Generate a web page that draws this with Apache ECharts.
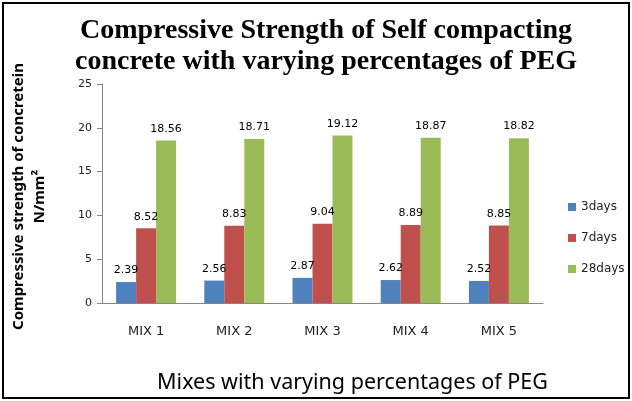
<!DOCTYPE html>
<html>
<head>
<meta charset="utf-8">
<script src="https://cdn.jsdelivr.net/npm/echarts@6/dist/echarts.min.js"></script>
<style>
html,body{margin:0;padding:0;background:#fff;}
#c{width:632px;height:401px;}
</style>
</head>
<body>
<div id="c"></div>
<script>
var categories = ['MIX 1', 'MIX 2', 'MIX 3', 'MIX 4', 'MIX 5'];
var days3 = [2.39, 2.56, 2.87, 2.62, 2.52];
var days7 = [8.52, 8.83, 9.04, 8.89, 8.85];
var days28 = [18.56, 18.71, 19.12, 18.87, 18.82];
var seriesNames = ['3days', '7days', '28days'];
var colors = ['#4F81BD', '#C0504D', '#9BBB59'];

var chart = echarts.init(document.getElementById('c'));
function mk(name, data, color) {
  return {
    name: name, type: 'bar', data: data, barGap: '0%', barCategoryGap: '32%',
    itemStyle: { color: color },
    label: { show: true, position: 'top', distance: 6, color: '#000',
      fontFamily: 'DejaVu Sans', fontSize: 11, formatter: function(p){ return p.value.toFixed(2); } }
  };
}
chart.setOption({
  animation: false,
  title: {
    text: 'Compressive Strength of Self compacting\nconcrete with varying percentages of PEG',
    left: 321, top: 10, textAlign: 'center',
    textStyle: { fontFamily: 'Liberation Serif', fontWeight: 'bold', fontSize: 28, lineHeight: 31, color: '#000' }
  },
  legend: {
    orient: 'vertical', left: 563, top: 196, itemWidth: 8, itemHeight: 8, itemGap: 19,
    icon: 'rect',
    textStyle: { fontFamily: 'DejaVu Sans', fontSize: 12, color: '#222' },
    data: seriesNames
  },
  grid: { left: 102, right: 89, top: 84, bottom: 98, containLabel: false, outerBoundsMode: 'none' },
  xAxis: {
    type: 'category', data: categories,
    name: 'Mixes with varying percentages of PEG', nameLocation: 'middle', nameGap: 69,
    nameTextStyle: { fontFamily: 'Noto Sans', fontSize: 21.5, color: '#000', padding: [0, 0, 0, 60] },
    axisLine: { lineStyle: { color: '#868686', width: 1 } },
    axisTick: { show: false },
    axisLabel: { margin: 22, fontFamily: 'DejaVu Sans', fontSize: 13, color: '#222' }
  },
  yAxis: {
    type: 'value', min: 0, max: 25, interval: 5,
    name: 'Compressive strength of concretein\nN/mm²', nameLocation: 'middle', nameGap: 52, nameRotate: 90,
    nameTextStyle: { fontFamily: 'Noto Sans', fontWeight: 'bold', fontSize: 15, lineHeight: 21, color: '#000', align: 'center', padding: [0, 6, 0, 0] },
    axisLine: { show: true, lineStyle: { color: '#868686', width: 1 } },
    axisTick: { show: true, length: 5, lineStyle: { color: '#868686' } },
    splitLine: { show: false },
    axisLabel: { margin: 10, fontFamily: 'DejaVu Sans', fontSize: 11, color: '#222' }
  },
  graphic: [{
    type: 'rect', shape: { x: 3, y: 3, width: 626, height: 395 },
    style: { fill: 'none', stroke: '#000', lineWidth: 2 }, silent: true
  }],
  series: [mk(seriesNames[0], days3, colors[0]), mk(seriesNames[1], days7, colors[1]), mk(seriesNames[2], days28, colors[2])]
});
</script>
</body>
</html>
